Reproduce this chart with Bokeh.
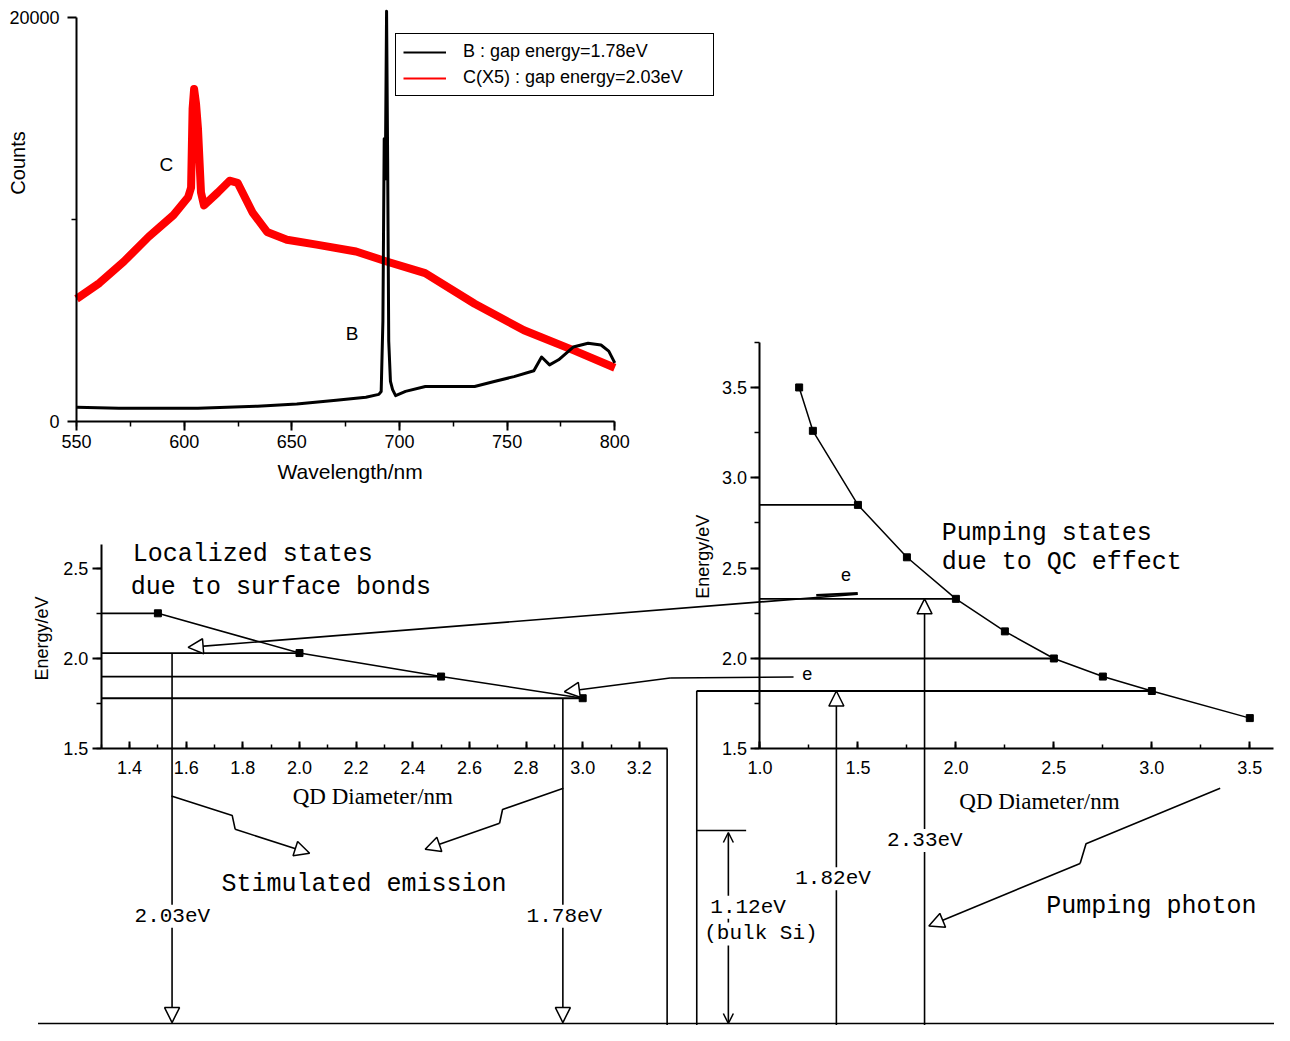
import math
from bokeh.plotting import figure
from bokeh.models import (Range1d, LinearAxis, SingleIntervalTicker, FixedTicker,
                          PrintfTickFormatter, Label, Arrow, NormalHead, OpenHead,
                          Legend, LegendItem)
from bokeh.embed import file_html
from bokeh.resources import INLINE

# ---------------- data ----------------
# Spectrum C (x5), red
wl_C = [550, 560.6, 572, 583.5, 595, 601.8, 603.2, 603.9, 604.6, 605.5, 606.4, 607.8,
        609.2, 615.6, 621.1, 624.8, 631.7, 638.5, 647.7, 661.5, 679.8, 694, 711.9,
        734.9, 757.8, 780.7, 800]
counts_C = [6080, 6860, 7930, 9150, 10220, 11100, 11580, 15470, 16450, 15720, 14500,
            11340, 10700, 11340, 11920, 11820, 10360, 9390, 9000, 8760, 8420, 7930,
            7350, 5840, 4530, 3550, 2680]
# Spectrum B, black
wl_B = [550, 569.7, 606.4, 634, 652.3, 670.6, 684.4, 690.4, 691.5, 692.3, 692.9, 693.4,
        694.0, 694.5, 695.0, 695.8, 696.8, 698.2, 702.8, 712, 725.7, 734.9, 744,
        753.2, 762.4, 766, 769.7, 773.9, 780.7, 787.6, 793.6, 797.2, 800]
counts_B = [730, 680, 680, 780, 880, 1070, 1220, 1360, 1500, 5000, 14000, 12000,
            20300, 13000, 4000, 2000, 1600, 1300, 1510, 1750, 1750, 1750, 2000,
            2240, 2530, 3210, 2820, 3070, 3700, 3890, 3800, 3500, 2920]
legend_labels = ["B : gap energy=1.78eV", "C(X5) : gap energy=2.03eV"]
count_ticks = [0, 20000]
count_minor = [10000]

# Localized states (surface bonds)
ll_diam = [1.5, 2.0, 2.5, 3.0]
ll_energy = [2.25, 2.03, 1.90, 1.78]
# Pumping states (QC effect)
lr_diam = [1.2, 1.27, 1.5, 1.75, 2.0, 2.25, 2.5, 2.75, 3.0, 3.5]
lr_energy = [3.50, 3.26, 2.85, 2.56, 2.33, 2.15, 2.00, 1.90, 1.82, 1.67]
lr_levels = [2.85, 2.33, 2.00]          # levels drawn from the axis
lr_level_diam = [1.5, 2.0, 2.5]
emit_diam = [1.55, 2.93]                # stimulated emission arrows
emit_energy = [2.03, 1.78]
emit_text = ["2.03eV", "1.78eV"]
pump_diam = [1.39, 1.84]                # pumping arrows
pump_energy = [1.82, 2.33]
pump_text = ["1.82eV", "2.33eV"]

# ---------------- layout (reference pixel frame) ----------------
W_REF, H_REF = 1290, 1041


def xmap(v0, p0, v1, p1):
    k = (v1 - v0) / (p1 - p0)
    return Range1d(start=v0 - p0 * k, end=v0 + (W_REF - p0) * k), (lambda p: v0 + (p - p0) * k)


def ymap(v0, p0, v1, p1):
    k = (v1 - v0) / (p1 - p0)
    return Range1d(start=v0 + (H_REF - p0) * k, end=v0 - p0 * k), (lambda p: v0 + (p - p0) * k)


wl_range, wl_at = xmap(550, 77, 800, 622)
cnt_range, cnt_at = ymap(0, 428, 20000, 17)
dll_range, dll_at = xmap(1.4, 130.7, 3.0, 589.5)
dlr_range, dlr_at = xmap(1.0, 769, 3.5, 1265)
E_range, E_at = ymap(1.5, 760, 2.5, 576.5)

p = figure(width=1274, height=1025, x_range=Range1d(0, W_REF), y_range=Range1d(H_REF, 0),
           x_axis_type=None, y_axis_type=None, toolbar_location=None,
           output_backend="svg", min_border=0, outline_line_color=None)
p.extra_x_ranges = {"wl": wl_range, "dll": dll_range, "dlr": dlr_range}
p.extra_y_ranges = {"cnt": cnt_range, "E": E_range}

SANS = "Liberation Sans"
SERIF = "Liberation Serif"
MONO = "Liberation Mono"


def style_axis(ax, inward=False, size="18px", standoff=5):
    ax.axis_line_width = 2
    ax.major_tick_line_width = 2
    ax.minor_tick_line_width = 1.5
    if inward:
        ax.major_tick_in, ax.major_tick_out = 7, 0
        ax.minor_tick_in, ax.minor_tick_out = 4, 0
    else:
        ax.major_tick_in, ax.major_tick_out = 0, 9
        ax.minor_tick_in, ax.minor_tick_out = 0, 5
    ax.major_label_text_font = SANS
    ax.major_label_text_font_size = size
    ax.major_label_text_color = "black"
    ax.major_label_standoff = standoff
    ax.axis_line_color = "black"
    ax.major_tick_line_color = "black"
    ax.minor_tick_line_color = "black"


# ---- spectrum ----
rC = p.line(wl_C, counts_C, x_range_name="wl", y_range_name="cnt", line_color="#ff0000",
            line_width=8, line_join="round")
rB = p.line(wl_B, counts_B, x_range_name="wl", y_range_name="cnt", line_color="black",
            line_width=3, line_join="round")
nan = float("nan")
proxyB = p.line([nan, nan], [nan, nan], x_range_name="wl", y_range_name="cnt",
                line_color="black", line_width=2)
proxyC = p.line([nan, nan], [nan, nan], x_range_name="wl", y_range_name="cnt",
                line_color="#ff0000", line_width=2)

ax = LinearAxis(x_range_name="wl", y_range_name="cnt", fixed_location=0, bounds=(550, 800),
                ticker=SingleIntervalTicker(interval=50, num_minor_ticks=2))
style_axis(ax, standoff=4)
p.add_layout(ax, "below")
ay = LinearAxis(x_range_name="wl", y_range_name="cnt", fixed_location=550, bounds=(0, 20000),
                ticker=FixedTicker(ticks=count_ticks, minor_ticks=count_minor))
style_axis(ay, standoff=8)
p.add_layout(ay, "left")

legend = Legend(items=[LegendItem(label=legend_labels[0], renderers=[proxyB]),
                       LegendItem(label=legend_labels[1], renderers=[proxyC])],
                location=(395, 929), label_text_font=SANS, label_text_font_size="18px",
                label_text_color="black",
                glyph_width=43, glyph_height=20, label_height=20, label_width=243,
                label_standoff=17, padding=7, spacing=5, margin=0,
                border_line_color="black", border_line_width=1.5, border_line_alpha=1,
                background_fill_color="white", background_fill_alpha=1)
p.add_layout(legend)

# ---- lower-left: localized states ----
p.line(ll_diam, ll_energy, x_range_name="dll", y_range_name="E", line_color="black", line_width=1.5)
p.segment(x0=[1.3] * len(ll_diam), y0=ll_energy, x1=ll_diam, y1=ll_energy,
          x_range_name="dll", y_range_name="E", line_color="black", line_width=1.8)
p.scatter(ll_diam, ll_energy, x_range_name="dll", y_range_name="E", marker="square",
          size=7, color="black")
llx = LinearAxis(x_range_name="dll", y_range_name="E", fixed_location=1.5, bounds=(1.3, 3.3),
                 ticker=SingleIntervalTicker(interval=0.2, num_minor_ticks=2),
                 formatter=PrintfTickFormatter(format="%.1f"))
style_axis(llx, inward=True, standoff=12)
p.add_layout(llx, "below")
lly = LinearAxis(x_range_name="dll", y_range_name="E", fixed_location=1.3, bounds=(1.5, 2.63),
                 ticker=SingleIntervalTicker(interval=0.5, num_minor_ticks=2),
                 formatter=PrintfTickFormatter(format="%.1f"))
style_axis(lly, standoff=4)
p.add_layout(lly, "left")

# ---- lower-right: pumping states ----
p.line(lr_diam, lr_energy, x_range_name="dlr", y_range_name="E", line_color="black", line_width=1.5)
p.segment(x0=[1.0] * len(lr_levels), y0=lr_levels, x1=lr_level_diam, y1=lr_levels,
          x_range_name="dlr", y_range_name="E", line_color="black", line_width=1.8)
p.segment(x0=[dlr_at(705)], y0=[pump_energy[0]], x1=[3.0], y1=[pump_energy[0]],
          x_range_name="dlr", y_range_name="E", line_color="black", line_width=1.8)
p.scatter(lr_diam, lr_energy, x_range_name="dlr", y_range_name="E", marker="square",
          size=7, color="black")
lrx = LinearAxis(x_range_name="dlr", y_range_name="E", fixed_location=1.5, bounds=(1.0, 3.62),
                 ticker=SingleIntervalTicker(interval=0.5, num_minor_ticks=2),
                 formatter=PrintfTickFormatter(format="%.1f"))
style_axis(lrx, inward=True, standoff=12)
p.add_layout(lrx, "below")
lry = LinearAxis(x_range_name="dlr", y_range_name="E", fixed_location=1.0, bounds=(1.5, 3.75),
                 ticker=SingleIntervalTicker(interval=0.5, num_minor_ticks=2),
                 formatter=PrintfTickFormatter(format="%.1f"))
style_axis(lry, standoff=4)
p.add_layout(lry, "left")

# ---- annotation lines (reference pixel frame) ----
LW = 1.6
p.segment(x0=[675, 705, 705, 38], y0=[760, 701, 843, 1039], x1=[675, 705, 755, 1290],
          y1=[1041, 1041, 843, 1039], line_color="black", line_width=LW)
p.segment(x0=[826], y0=[604], x1=[868], y1=[602], line_color="black", line_width=2.5)
p.line([803, 678], [687, 688], line_color="black", line_width=LW)


def head():
    return NormalHead(size=15, fill_color="white", line_color="black", line_width=1.5)


def arrow(x0, y0, x1, y1, **kw):
    p.add_layout(Arrow(x_start=x0, y_start=y0, x_end=x1, y_end=y1, end=head(),
                       line_color="black", line_width=LW, **kw))


arrow(868, 603, 190, 657)
arrow(678, 688, 571, 702)

for d, e in zip(emit_diam, emit_energy):
    arrow(d, e, d, E_at(1038), x_range_name="dll", y_range_name="E")
for d, e in zip(pump_diam, pump_energy):
    arrow(d, E_at(1041), d, e, x_range_name="dlr", y_range_name="E")

p.add_layout(Arrow(x_start=737, y_start=1039, x_end=737, y_end=845,
                   start=OpenHead(size=10, line_width=1.5), end=OpenHead(size=10, line_width=1.5),
                   line_color="black", line_width=LW))


def bolt(sx, sy, ex, ey, jx, jy, t=0.45):
    vx, vy = ex - sx - jx, ey - sy - jy
    p1 = (sx + t * vx, sy + t * vy)
    p2 = (p1[0] + jx, p1[1] + jy)
    p.line([sx, p1[0], p2[0]], [sy, p1[1], p2[1]], line_color="black", line_width=LW)
    arrow(p2[0], p2[1], ex, ey)


bolt(173, 808, 313, 866, 3, 14)
bolt(570, 800, 430, 862, -3, 14)
bolt(1235, 800, 940, 940, -6, 20, t=0.47)


# ---- text ----
def label(x, y, text, font=SANS, size="18px", align="center", angle=0, bg=False, **kw):
    lab = Label(x=x, y=y, text=text, text_font=font, text_font_size=size, text_align=align,
                text_baseline="middle", angle=angle, text_color="black", **kw)
    if bg:
        lab.background_fill_color = "white"
        lab.background_fill_alpha = 1
    p.add_layout(lab)


label(18, 165, "Counts", size="20px", angle=math.pi / 2)
label(354, 478, "Wavelength/nm", size="21px")
label(168, 167, "C", size="19px")
label(356, 338, "B", size="19px")
label(42, 648, "Energy/eV", size="18px", angle=math.pi / 2)
label(711, 565, "Energy/eV", size="18px", angle=math.pi / 2)
label(377, 808, "QD Diameter/nm", font=SERIF, size="23px")
label(1052, 814, "QD Diameter/nm", font=SERIF, size="23px")
label(856, 583, "e", size="18px")
label(817, 683, "e", size="18px")
label(134, 563, "Localized states", font=MONO, size="25px", align="left")
label(132, 596, "due to surface bonds", font=MONO, size="25px", align="left")
label(953, 541, "Pumping states", font=MONO, size="25px", align="left")
label(953, 571, "due to QC effect", font=MONO, size="25px", align="left")
label(368, 898, "Stimulated emission", font=MONO, size="25px")
label(1059, 920, "Pumping photon", font=MONO, size="25px", align="left")
label(174, 930, emit_text[0], font=MONO, size="21px", bg=True)
label(571, 930, emit_text[1], font=MONO, size="21px", bg=True)
label(843, 892, pump_text[0], font=MONO, size="21px", bg=True)
label(936, 853, pump_text[1], font=MONO, size="21px", bg=True)
label(757, 921, "1.12eV", font=MONO, size="21px", bg=True)
label(770, 948, "(bulk Si)", font=MONO, size="21px", bg=True)

open("out.html", "w").write(file_html(p, INLINE))
